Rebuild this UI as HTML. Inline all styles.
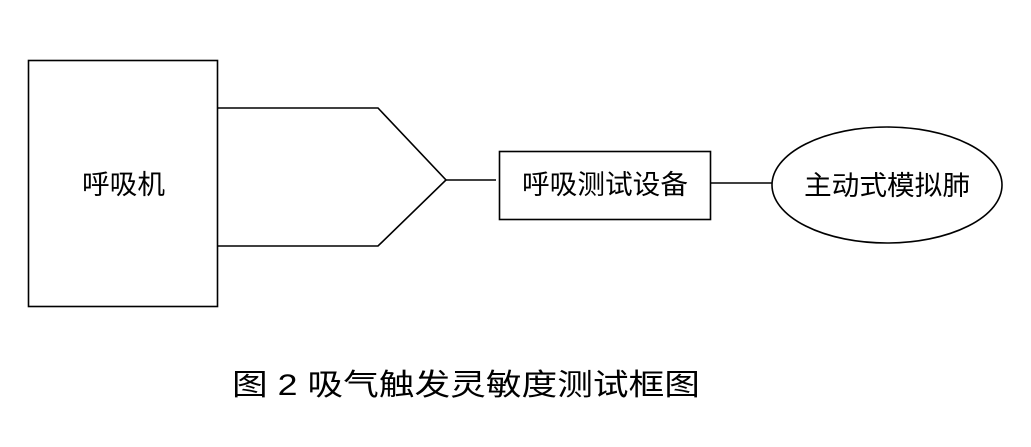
<!DOCTYPE html>
<html><head><meta charset="utf-8"><style>
body{margin:0;background:#fff;width:1031px;height:442px;overflow:hidden}
svg text{font-family:"Liberation Sans","Noto Sans CJK SC",sans-serif;fill:#000}
</style></head><body>
<svg width="1031" height="442" xmlns="http://www.w3.org/2000/svg">
<g fill="none" stroke="#000" stroke-width="1.6">
<rect x="28.5" y="60.5" width="189" height="246"/>
<polyline points="217,108 378,108 446,180 378,246 217,246"/>
<line x1="446" y1="180" x2="496" y2="180"/>
<rect x="499.5" y="151.5" width="211" height="68"/>
<line x1="711" y1="183" x2="772" y2="183"/>
<ellipse cx="887" cy="185" rx="115" ry="58"/>
</g>
<text x="82" y="194" font-size="27" textLength="83" lengthAdjust="spacingAndGlyphs">呼吸机</text>
<text x="522" y="194" font-size="27" textLength="166" lengthAdjust="spacingAndGlyphs">呼吸测试设备</text>
<text x="804" y="195" font-size="27" textLength="166" lengthAdjust="spacingAndGlyphs">主动式模拟肺</text>
<text x="232" y="395" font-size="30" textLength="468" lengthAdjust="spacingAndGlyphs">图 2 吸气触发灵敏度测试框图</text>
</svg>
</body></html>
